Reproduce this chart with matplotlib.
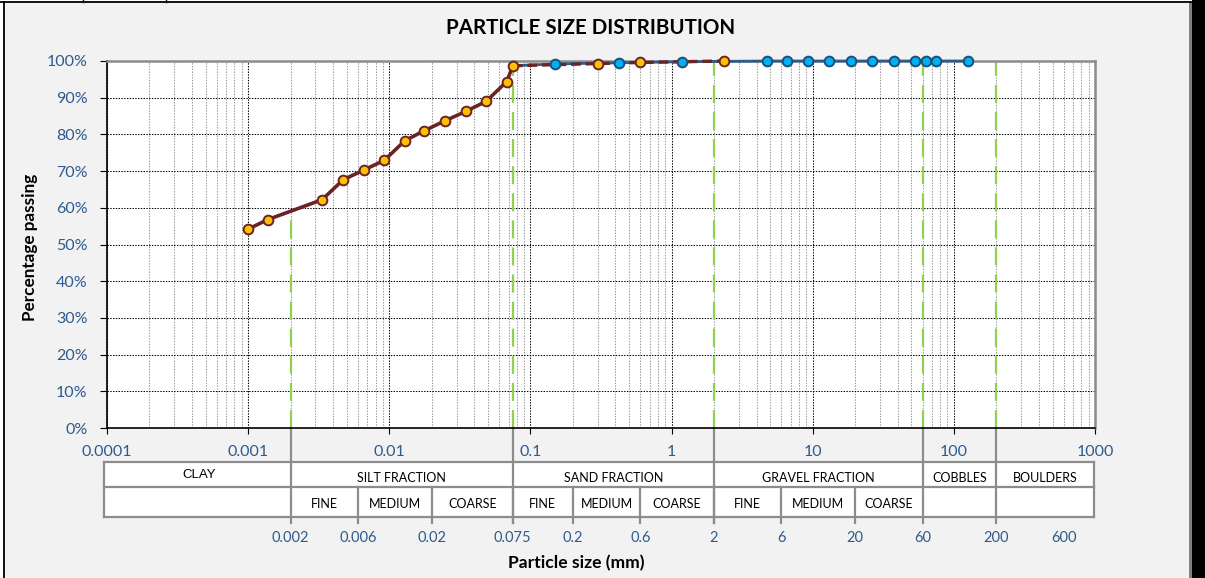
import numpy as np
import matplotlib
matplotlib.use("Agg")
import matplotlib.pyplot as plt
from matplotlib.ticker import FixedLocator, FixedFormatter, NullFormatter
from matplotlib.transforms import blended_transform_factory
from matplotlib.lines import Line2D
from matplotlib.patches import Rectangle

# ---------------- data ----------------
brown_size = [0.001, 0.00138, 0.00334, 0.0047, 0.0066, 0.0092, 0.0129, 0.0177,
              0.0248, 0.035, 0.0485, 0.068, 0.075, 0.3, 0.6, 2.36]
brown_pass = [54.2, 56.8, 62.2, 67.6, 70.3, 72.9, 78.3, 81.0,
              83.7, 86.3, 89.0, 94.4, 98.7, 99.3, 99.6, 100.0]
brown_solid_count = 13  # hydrometer part drawn solid, rest dashed

blue_size = [0.075, 0.15, 0.425, 1.18, 4.75, 6.6, 9.3, 13.1, 18.7, 26.5,
             37.5, 53, 63, 75, 125]
blue_pass = [98.7, 99.2, 99.5, 99.8, 100, 100, 100, 100, 100, 100,
             100, 100, 100, 100, 100]

x_ticks = [0.0001, 0.001, 0.01, 0.1, 1, 10, 100, 1000]
x_tick_labels = ["0.0001", "0.001", "0.01", "0.1", "1", "10", "100", "1000"]
y_ticks = [0, 10, 20, 30, 40, 50, 60, 70, 80, 90, 100]
y_tick_labels = ["0%", "10%", "20%", "30%", "40%", "50%", "60%", "70%", "80%", "90%", "100%"]

main_bounds = [0.0001, 0.002, 0.075, 2, 60, 200, 1000]
main_names = ["CLAY", "SILT FRACTION", "SAND FRACTION", "GRAVEL FRACTION", "COBBLES", "BOULDERS"]
sub_bounds = [0.002, 0.006, 0.02, 0.075, 0.2, 0.6, 2, 6, 20, 60]
sub_names = ["FINE", "MEDIUM", "COARSE", "FINE", "MEDIUM", "COARSE", "FINE", "MEDIUM", "COARSE"]
green_bounds = [0.002, 0.075, 2, 60, 200]
bound_labels = ["0.002", "0.006", "0.02", "0.075", "0.2", "0.6", "2", "6", "20", "60", "200", "600"]
bound_values = [0.002, 0.006, 0.02, 0.075, 0.2, 0.6, 2, 6, 20, 60, 200, 600]

title = "PARTICLE SIZE DISTRIBUTION"
xlabel = "Particle size (mm)"
ylabel = "Percentage passing"

# ---------------- style ----------------
plt.rcParams['lines.scale_dashes'] = False
FONT = ["Lato", "DejaVu Sans"]
TICK_C = "#2E5A8E"
BROWN = "#6B2424"
ORANGE = "#FFC000"
BLUE_LINE = "#2E5C8A"
BLUE_MK = "#00B0F0"
BLUE_EDGE = "#1F4E79"
GREEN = "#92D050"
GREY = "#8C8C8C"

W, H = 1205, 578
fig = plt.figure(figsize=(W / 100, H / 100), dpi=100, facecolor="#F2F2F2")

L, R, T, B = 107, 1095, 61, 428
ax = fig.add_axes([L / W, 1 - B / H, (R - L) / W, (B - T) / H])
ax.set_facecolor("white")
ax.set_xscale("log")
ax.set_xlim(1e-4, 1000)
ax.set_ylim(0, 100)

# grid
ax.xaxis.set_major_locator(FixedLocator(x_ticks))
ax.xaxis.set_major_formatter(FixedFormatter(x_tick_labels))
minor = [m * 10.0 ** e for e in range(-4, 3) for m in range(2, 10)]
ax.xaxis.set_minor_locator(FixedLocator(minor))
ax.xaxis.set_minor_formatter(NullFormatter())
ax.yaxis.set_major_locator(FixedLocator(y_ticks))
ax.yaxis.set_major_formatter(FixedFormatter(y_tick_labels))
ax.grid(which="major", axis="both", color="black", linestyle=(0, (1, 1)), linewidth=0.75)
ax.grid(which="minor", axis="x", color="#9A9A9A", linestyle=(0, (1, 1)), linewidth=0.75)
ax.set_axisbelow(True)

ax.tick_params(axis="y", which="major", direction="out", length=5, width=0.8,
               color="black", pad=9, labelsize=11.5, labelcolor=TICK_C)
ax.tick_params(axis="x", which="major", direction="out", length=4, width=0.8,
               color="black", pad=8, labelsize=11.5, labelcolor=TICK_C)
ax.tick_params(axis="x", which="minor", length=0)
for lab in ax.get_xticklabels() + ax.get_yticklabels():
    lab.set_family(FONT)

for s in ["left", "bottom"]:
    ax.spines[s].set_color("black")
    ax.spines[s].set_linewidth(1.2)
for s in ["top", "right"]:
    ax.spines[s].set_color(GREY)
    ax.spines[s].set_linewidth(1.8)

# green boundary lines up to the curve
xs_all = np.log10(np.array(brown_size[:brown_solid_count] + blue_size[1:]))
ys_all = np.array(brown_pass[:brown_solid_count] + blue_pass[1:])
for b in green_bounds:
    top = np.interp(np.log10(b), xs_all, ys_all)
    ax.plot([b, b], [0, top], color=GREEN, linewidth=1.6,
            dashes=(13, 6.5), zorder=2)

# series
ax.plot(blue_size, blue_pass, color=BLUE_LINE, linewidth=2.0, zorder=3, clip_on=False)
ax.plot(brown_size[:brown_solid_count], brown_pass[:brown_solid_count],
        color=BROWN, linewidth=2.6, zorder=4, clip_on=False)
ax.plot(brown_size[brown_solid_count - 1:], brown_pass[brown_solid_count - 1:],
        color=BROWN, linewidth=2.4, dashes=(7, 3.5), zorder=4, clip_on=False)
ax.plot(blue_size[1:], blue_pass[1:], linestyle="none", marker="o", markersize=7,
        markerfacecolor=BLUE_MK, markeredgecolor=BLUE_EDGE, markeredgewidth=1.4,
        zorder=5, clip_on=False)
ax.plot(brown_size, brown_pass, linestyle="none", marker="o", markersize=7,
        markerfacecolor=ORANGE, markeredgecolor=BROWN, markeredgewidth=1.4,
        zorder=6, clip_on=False)

# ---------------- classification table ----------------
def ay(ypx):
    return (B - ypx) / (B - T)

tr = blended_transform_factory(ax.transData, ax.transAxes)
tra = ax.transAxes
r1_top, r_mid, r_bot, tick_bot = ay(462), ay(487), ay(517), ay(523)
x_left, x_right = (104 - L) / (R - L), (1094 - L) / (R - L)

ax.add_patch(Rectangle((x_left, r_bot), x_right - x_left, r1_top - r_bot,
                       transform=tra, facecolor="white", edgecolor="none",
                       clip_on=False, zorder=1))
lw_t = 1.6
for yy in [r1_top, r_mid, r_bot]:
    ax.add_line(Line2D([x_left, x_right], [yy, yy], transform=tra, color=GREY,
                       linewidth=lw_t, clip_on=False))
for xx in [x_left, x_right]:
    ax.add_line(Line2D([xx, xx], [r_bot, r1_top], transform=tra, color=GREY,
                       linewidth=lw_t, clip_on=False))
for b in main_bounds[1:-1]:
    ax.add_line(Line2D([b, b], [0, tick_bot], transform=tr, color=GREY,
                       linewidth=lw_t, clip_on=False))
for b in sub_bounds[1:-1]:
    ax.add_line(Line2D([b, b], [r_mid, tick_bot], transform=tr, color=GREY,
                       linewidth=lw_t, clip_on=False))

for i, name in enumerate(main_names):
    lo, hi = main_bounds[i], main_bounds[i + 1]
    xc = 10 ** ((np.log10(lo) + np.log10(hi)) / 2)
    fam = ["Liberation Sans"] if name == "CLAY" else FONT
    ax.text(xc, (r1_top + r_mid) / 2 - (0 if name == "CLAY" else 0.01), name,
            transform=tr, ha="center", va="center", fontsize=9.5 if name == "CLAY" else 9,
            family=fam, color="black", clip_on=False)
for i, name in enumerate(sub_names):
    lo, hi = sub_bounds[i], sub_bounds[i + 1]
    xc = 10 ** ((np.log10(lo) + np.log10(hi)) / 2)
    ax.text(xc, (r_mid + r_bot) / 2 - 0.005, name, transform=tr, ha="center", va="center",
            fontsize=9, family=FONT, color="black", clip_on=False)
for v, lab in zip(bound_values, bound_labels):
    ax.text(v, ay(538), lab, transform=tr, ha="center", va="center",
            fontsize=10.5, family=FONT, color=TICK_C, clip_on=False)

# titles
fig.text(591 / W, 1 - 28 / H, title, ha="center", va="center", fontsize=14.8,
         fontweight="bold", family=FONT, color="black")
fig.text(576 / W, 1 - 563 / H, xlabel, ha="center", va="center", fontsize=12.6,
         fontweight="bold", family=FONT, color="black")
fig.text(30 / W, 1 - 247 / H, ylabel, ha="center", va="center", fontsize=12.3,
         fontweight="bold", family=FONT, color="black", rotation=90)

# ---------------- outer frame ----------------
def fx(px):
    return px / W

def fy(py):
    return 1 - py / H

fig.patches.append(Rectangle((0, 0), fx(3), 1, transform=fig.transFigure,
                             facecolor="white", edgecolor="none", zorder=0))
fig.patches.append(Rectangle((0, fy(2)), 1, 2 / H, transform=fig.transFigure,
                             facecolor="white", edgecolor="none", zorder=0))
fig.lines.append(Line2D([fx(3.5), fx(3.5)], [0, fy(2)], transform=fig.transFigure,
                        color="black", linewidth=1.3))
fig.lines.append(Line2D([0, fx(1192)], [fy(2), fy(2)], transform=fig.transFigure,
                        color="black", linewidth=1.3))
for xx in [83, 166]:
    fig.lines.append(Line2D([fx(xx), fx(xx)], [fy(2), 1], transform=fig.transFigure,
                            color="black", linewidth=1.0))
fig.patches.append(Rectangle((fx(1189), 0), 3 / W, fy(2), transform=fig.transFigure,
                             facecolor="#808080", edgecolor="none"))
fig.patches.append(Rectangle((fx(1192), 0), 13 / W, 1, transform=fig.transFigure,
                             facecolor="black", edgecolor="none"))

fig.savefig("out.png", dpi=100, facecolor=fig.get_facecolor())
